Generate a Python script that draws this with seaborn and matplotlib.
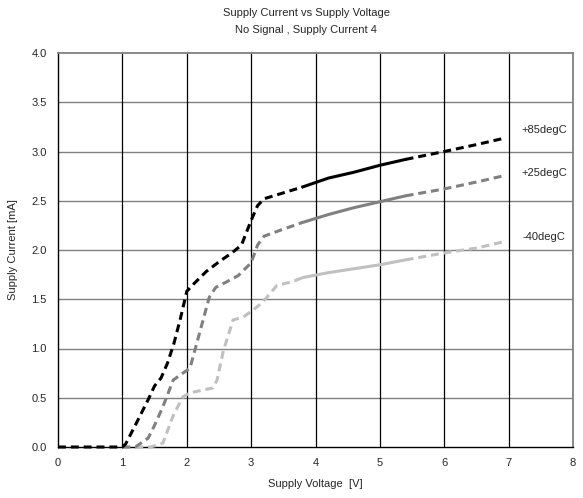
import matplotlib
matplotlib.use("Agg")
import matplotlib.pyplot as plt
import seaborn as sns
import numpy as np
import pandas as pd

sns.set_style("white")
plt.rcParams['font.family'] = ['Liberation Sans', 'DejaVu Sans']

title_lines = ["Supply Current vs Supply Voltage", "No Signal , Supply Current 4"]
x_label = "Supply Voltage  [V]"
y_label = "Supply Current [mA]"
x_ticks = [0, 1, 2, 3, 4, 5, 6, 7, 8]
y_ticks = [0.0, 0.5, 1.0, 1.5, 2.0, 2.5, 3.0, 3.5, 4.0]

series_names = ["+85degC", "+25degC", "-40degC"]
series_colors = ["#000000", "#808080", "#c0c0c0"]
label_y = [3.22, 2.78, 2.13]

v_85 = [0.0, 0.5, 1.0, 1.05, 1.2, 1.4, 1.5, 1.6, 1.7, 1.8, 1.9, 2.0, 2.1, 2.3, 2.5, 2.7, 2.85, 3.0, 3.1, 3.2, 3.5, 3.8,
        4.2, 4.6, 5.0, 5.4, 6.0, 6.5, 6.9]
i_85 = [0.0, 0.0, 0.0, 0.03, 0.22, 0.48, 0.62, 0.70, 0.85, 1.05, 1.30, 1.58, 1.65, 1.78, 1.88, 1.97, 2.05, 2.30, 2.45, 2.52, 2.58, 2.64,
        2.73, 2.79, 2.86, 2.92, 3.00, 3.07, 3.13]

v_25 = [1.0, 1.2, 1.4, 1.5, 1.63, 1.79, 1.94, 2.05, 2.2, 2.35, 2.45, 2.6, 2.8, 3.0, 3.1, 3.2, 3.45, 3.8,
        4.2, 4.6, 5.0, 5.4, 6.0, 6.5, 6.9]
i_25 = [0.0, 0.0, 0.09, 0.22, 0.41, 0.68, 0.75, 0.80, 1.16, 1.52, 1.62, 1.67, 1.74, 1.87, 2.05, 2.14, 2.20, 2.28,
        2.36, 2.43, 2.49, 2.55, 2.62, 2.69, 2.75]

v_40 = [1.2, 1.43, 1.55, 1.63, 1.79, 1.94, 2.05, 2.41, 2.47, 2.57, 2.72, 2.88, 3.03, 3.18, 3.4, 3.65, 3.8,
        4.2, 4.6, 5.0, 5.4, 6.0, 6.5, 6.9]
i_40 = [0.0, 0.0, 0.02, 0.04, 0.32, 0.51, 0.55, 0.60, 0.68, 0.98, 1.29, 1.32, 1.39, 1.47, 1.64, 1.68, 1.72,
        1.77, 1.81, 1.85, 1.90, 1.97, 2.02, 2.08]

solid_start = 3.8
solid_end = 5.4

fig = plt.figure(figsize=(5.83, 4.98), dpi=100)
ax = fig.add_axes([58/583, 1 - 447/498, (573-58)/583, (447-53)/498])

all_v = [v_85, v_25, v_40]
all_i = [i_85, i_25, i_40]

dash = (0, (2.6, 1.6))
order = [2, 1, 0]
for k in order:
    df = pd.DataFrame({"V": all_v[k], "I": all_i[k]})
    segs = [
        (df[df.V <= solid_start], dash),
        (df[(df.V >= solid_start) & (df.V <= solid_end)], "-"),
        (df[df.V >= solid_end], dash),
    ]
    for seg, ls in segs:
        sns.lineplot(data=seg, x="V", y="I", color=series_colors[k], linestyle=ls,
                     linewidth=2.2, sort=False, ax=ax, legend=False, zorder=3,
                     clip_on=False)

ax.set_xlim(0, 8)
ax.set_ylim(0, 4)
ax.set_xticks(x_ticks)
ax.set_xticklabels([str(t) for t in x_ticks], fontsize=8)
ax.set_yticks(y_ticks)
ax.set_yticklabels([f"{t:.1f}" for t in y_ticks], fontsize=8)
ax.tick_params(length=0, pad=8)

for t in y_ticks[1:-1]:
    ax.axhline(t, color="#808080", lw=1.0, zorder=1)
for t in x_ticks[1:-1]:
    ax.axvline(t, color="#000000", lw=0.9, zorder=1)

for side in ["left", "bottom"]:
    ax.spines[side].set_color("#000000")
    ax.spines[side].set_linewidth(1.0)
for side in ["top", "right"]:
    ax.spines[side].set_color("#808080")
    ax.spines[side].set_linewidth(1.3)

ax.set_xlabel(x_label, fontsize=8, labelpad=8)
ax.set_ylabel(y_label, fontsize=8, labelpad=10)

for name, yv in zip(series_names, label_y):
    ax.text(7.55, yv, name, fontsize=8, ha="center", va="center")

fig.text(0.525, 1 - 13/498, title_lines[0], ha="center", va="center", fontsize=8)
fig.text(0.525, 1 - 30/498, title_lines[1], ha="center", va="center", fontsize=8)

fig.savefig("out.png", dpi=100)
